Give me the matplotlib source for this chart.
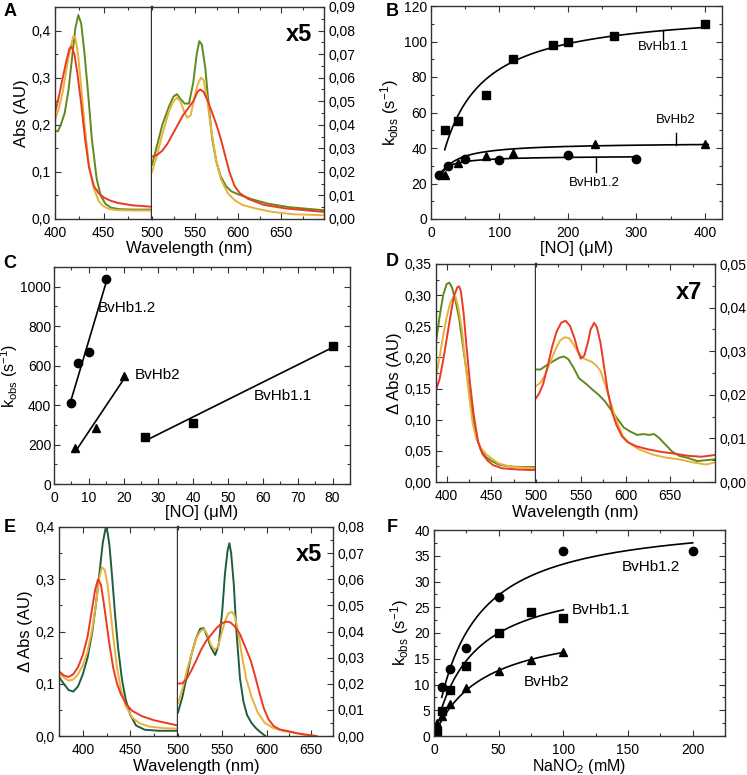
import numpy as np
import matplotlib
matplotlib.use("Agg")
import matplotlib.pyplot as plt
from matplotlib.ticker import MultipleLocator, FuncFormatter

plt.rcParams['font.family'] = ['Liberation Sans', 'DejaVu Sans']
plt.rcParams['mathtext.fontset'] = 'custom'
plt.rcParams['mathtext.rm'] = 'Liberation Sans'
plt.rcParams['mathtext.it'] = 'Liberation Sans:italic'

GREEN = '#5e8a1e'
YELLOW = '#e8b23a'
RED = '#ec3a22'
DKGREEN = '#1d5e3c'
SPINE = '#333333'

# ---------------- Panel A spectra ----------------
a_soret_wl = {
    'green': [400, 403, 406, 410, 414, 418, 421, 424, 427, 430, 434, 438, 443, 447, 452, 458, 466, 480, 500],
    'yellow': [400, 404, 408, 412, 416, 419, 421, 424, 427, 431, 435, 440, 445, 450, 456, 464, 480, 500],
    'red': [400, 404, 408, 412, 415, 417, 420, 423, 427, 431, 435, 440, 445, 450, 457, 465, 480, 500],
}
a_soret_abs = {
    'green': [0.187, 0.186, 0.200, 0.225, 0.275, 0.350, 0.405, 0.433, 0.415, 0.360, 0.270, 0.170, 0.085, 0.050, 0.032, 0.024, 0.021, 0.020, 0.020],
    'yellow': [0.210, 0.235, 0.270, 0.320, 0.365, 0.388, 0.385, 0.345, 0.280, 0.190, 0.115, 0.065, 0.038, 0.027, 0.021, 0.019, 0.018, 0.018],
    'red': [0.225, 0.260, 0.300, 0.338, 0.362, 0.366, 0.350, 0.310, 0.245, 0.170, 0.110, 0.070, 0.055, 0.046, 0.039, 0.034, 0.029, 0.026],
}
a_q_wl = {
    'green': [500, 505, 512, 520, 525, 529, 533, 538, 543, 548, 552, 555, 558, 562, 566, 570, 575, 580, 586, 592, 600, 615, 635, 660, 700],
    'yellow': [500, 505, 512, 520, 525, 529, 533, 537, 541, 545, 549, 553, 557, 560, 564, 568, 574, 580, 588, 596, 605, 620, 640, 665, 700],
    'red': [500, 506, 512, 518, 524, 530, 536, 542, 548, 553, 556, 560, 565, 570, 575, 580, 585, 590, 596, 602, 612, 630, 655, 700],
}
a_q_abs = {
    'green': [0.023, 0.030, 0.040, 0.048, 0.052, 0.053, 0.051, 0.049, 0.049, 0.058, 0.070, 0.0755, 0.074, 0.064, 0.048, 0.034, 0.024, 0.018, 0.014, 0.0118, 0.0105, 0.0085, 0.0065, 0.005, 0.0037],
    'yellow': [0.020, 0.026, 0.036, 0.046, 0.050, 0.0515, 0.050, 0.046, 0.043, 0.044, 0.051, 0.057, 0.060, 0.059, 0.051, 0.040, 0.026, 0.017, 0.011, 0.008, 0.006, 0.0045, 0.003, 0.002, 0.0016],
    'red': [0.0265, 0.0272, 0.029, 0.032, 0.036, 0.040, 0.044, 0.047, 0.050, 0.054, 0.055, 0.054, 0.050, 0.045, 0.040, 0.034, 0.027, 0.020, 0.014, 0.011, 0.0085, 0.006, 0.0045, 0.003],
}

# ---------------- Panel D spectra ----------------
d_soret_wl = {
    'green': [388, 392, 396, 400, 403, 406, 410, 414, 418, 422, 426, 430, 434, 438, 444, 450, 458, 470, 485, 500],
    'yellow': [388, 392, 396, 400, 404, 408, 410, 413, 417, 421, 425, 429, 433, 438, 444, 450, 458, 470, 485, 500],
    'red': [388, 392, 396, 400, 404, 408, 412, 414, 416, 419, 422, 426, 430, 435, 440, 446, 452, 462, 480, 500],
}
d_soret_abs = {
    'green': [0.225, 0.265, 0.300, 0.318, 0.320, 0.312, 0.290, 0.262, 0.220, 0.180, 0.135, 0.100, 0.070, 0.052, 0.040, 0.034, 0.028, 0.025, 0.024, 0.024],
    'yellow': [0.170, 0.200, 0.235, 0.265, 0.288, 0.298, 0.297, 0.280, 0.245, 0.190, 0.140, 0.095, 0.070, 0.055, 0.045, 0.038, 0.030, 0.025, 0.023, 0.022],
    'red': [0.148, 0.165, 0.195, 0.230, 0.265, 0.298, 0.313, 0.314, 0.305, 0.270, 0.220, 0.160, 0.110, 0.065, 0.045, 0.034, 0.027, 0.022, 0.020, 0.019],
}
d_q_wl = {
    'green': [500, 505, 512, 520, 526, 531, 536, 542, 548, 556, 563, 570, 577, 584, 591, 598, 606, 613, 620, 626, 632, 638, 645, 652, 660, 670, 680, 690, 700],
    'yellow': [500, 505, 510, 516, 522, 527, 532, 537, 542, 547, 552, 557, 562, 567, 572, 577, 583, 590, 597, 605, 615, 630, 645, 660, 675, 690, 700],
    'red': [500, 504, 508, 513, 518, 523, 528, 533, 538, 543, 547, 550, 554, 558, 561, 565, 568, 572, 576, 580, 585, 590, 596, 602, 612, 625, 640, 655, 670, 685, 700],
}
d_q_abs = {
    'green': [0.0258, 0.0258, 0.0268, 0.0278, 0.0285, 0.0288, 0.0282, 0.0262, 0.0238, 0.0225, 0.0212, 0.0200, 0.0185, 0.0165, 0.0145, 0.0125, 0.0115, 0.0108, 0.0110, 0.0108, 0.0110, 0.0100, 0.0085, 0.0070, 0.0060, 0.0055, 0.0048, 0.0050, 0.0052],
    'yellow': [0.0220, 0.0228, 0.0245, 0.0275, 0.0305, 0.0325, 0.0332, 0.0330, 0.0315, 0.0298, 0.0285, 0.0280, 0.0276, 0.0268, 0.0255, 0.0225, 0.0185, 0.0140, 0.0105, 0.0088, 0.0075, 0.0063, 0.0056, 0.0052, 0.0045, 0.0040, 0.0045],
    'red': [0.0192, 0.0205, 0.0225, 0.0265, 0.0310, 0.0345, 0.0365, 0.0370, 0.0358, 0.0330, 0.0300, 0.0283, 0.0290, 0.0320, 0.0350, 0.0365, 0.0355, 0.0320, 0.0265, 0.0210, 0.0160, 0.0130, 0.0105, 0.0092, 0.0082, 0.0075, 0.0069, 0.0065, 0.0060, 0.0058, 0.0062],
}

# ---------------- Panel E spectra ----------------
e_soret_wl = {
    'dkgreen': [375, 380, 385, 390, 395, 400, 405, 410, 414, 418, 421, 424, 426, 428, 431, 434, 437, 441, 445, 450, 456, 465, 480, 500],
    'yellow': [375, 380, 385, 390, 395, 400, 405, 410, 414, 417, 420, 423, 426, 429, 432, 436, 440, 445, 452, 460, 470, 485, 500],
    'red': [375, 380, 385, 390, 395, 400, 405, 409, 413, 416, 419, 422, 425, 428, 432, 436, 440, 446, 452, 462, 475, 490, 500],
}
e_soret_abs = {
    'dkgreen': [0.113, 0.100, 0.088, 0.085, 0.095, 0.118, 0.150, 0.200, 0.255, 0.320, 0.370, 0.398, 0.390, 0.365, 0.300, 0.230, 0.170, 0.110, 0.070, 0.040, 0.020, 0.012, 0.010, 0.010],
    'yellow': [0.120, 0.112, 0.106, 0.108, 0.118, 0.135, 0.162, 0.205, 0.255, 0.300, 0.323, 0.318, 0.290, 0.240, 0.190, 0.130, 0.090, 0.058, 0.035, 0.024, 0.018, 0.015, 0.014],
    'red': [0.124, 0.116, 0.113, 0.118, 0.132, 0.155, 0.190, 0.235, 0.280, 0.300, 0.290, 0.255, 0.215, 0.175, 0.130, 0.100, 0.080, 0.060, 0.048, 0.038, 0.030, 0.024, 0.020],
}
e_q_wl = {
    'dkgreen': [500, 505, 510, 515, 520, 525, 529, 533, 537, 542, 546, 550, 553, 556, 558, 560, 563, 566, 570, 574, 578, 583, 588, 593, 598, 605],
    'yellow': [500, 505, 510, 515, 520, 525, 529, 533, 537, 541, 545, 549, 553, 557, 561, 564, 568, 572, 577, 583, 590, 598, 608, 620, 632, 645, 655],
    'red': [500, 505, 510, 515, 520, 526, 532, 538, 544, 550, 555, 559, 564, 570, 576, 582, 587, 592, 597, 602, 608, 615, 625, 635, 645, 655, 665],
}
e_q_abs = {
    'dkgreen': [0.009, 0.015, 0.023, 0.031, 0.037, 0.041, 0.0413, 0.038, 0.034, 0.031, 0.035, 0.048, 0.062, 0.071, 0.0738, 0.070, 0.058, 0.040, 0.022, 0.013, 0.008, 0.005, 0.003, 0.0015, 0.0002, -0.002],
    'yellow': [0.0125, 0.018, 0.025, 0.031, 0.037, 0.040, 0.041, 0.039, 0.035, 0.033, 0.034, 0.039, 0.044, 0.047, 0.0475, 0.046, 0.040, 0.031, 0.022, 0.015, 0.009, 0.005, 0.003, 0.0018, 0.0012, 0.0003, -0.001],
    'red': [0.020, 0.0202, 0.022, 0.025, 0.0285, 0.033, 0.0365, 0.039, 0.0415, 0.0432, 0.0438, 0.0435, 0.042, 0.039, 0.034, 0.029, 0.023, 0.0165, 0.0105, 0.0065, 0.0038, 0.0025, 0.0018, 0.001, 0.0005, 0.0001, -0.001],
}

# ---------------- Panel B kinetics ----------------
b_no_11 = [20, 40, 80, 120, 178, 200, 267, 400]
b_k_11 = [50, 55, 70, 90, 98, 100, 103, 110]
b_no_2 = [20, 40, 80, 120, 240, 400]
b_k_2 = [25, 31.5, 35.5, 37, 42.5, 42]
b_no_12 = [12, 25, 50, 100, 200, 300]
b_k_12 = [25, 30, 34, 33, 36, 34]
# hyperbolic fits: kmax, K, x range
b_fit_11 = (119.0, 41.0, 20, 400)
b_fit_2 = (43.1, 10.9, 15, 405)
b_fit_12 = (35.6, 5.1, 12, 300)

# ---------------- Panel C kinetics ----------------
c_no_12 = [5, 7, 10, 15]
c_k_12 = [410, 612, 670, 1040]
c_no_2 = [6, 12, 20]
c_k_2 = [180, 285, 545]
c_no_11 = [26, 40, 80]
c_k_11 = [240, 310, 700]

# ---------------- Panel F kinetics ----------------
f_no2_12 = [6, 12.5, 25, 50, 100, 200]
f_k_12 = [9.5, 13, 17, 27, 36, 36]
f_no2_11 = [2.5, 6, 12.5, 25, 50, 75, 100]
f_k_11 = [1, 4.8, 9, 13.5, 20, 24, 23]
f_no2_2 = [2.5, 6, 12.5, 25, 50, 75, 100]
f_k_2 = [2.5, 3.8, 6.2, 9.3, 12.7, 14.7, 16.4]
f_fit_12 = (42.8, 28.2, 6, 200)
f_fit_11 = (31.6, 29.0, 5, 100)
f_fit_2 = (22.4, 38.0, 2, 100)

W, H = 747, 775
fig = plt.figure(figsize=(W / 100, H / 100), dpi=100)


def box(x0, x1, y0, y1):
    return [x0 / W, 1 - y1 / H, (x1 - x0) / W, (y1 - y0) / H]


def comma(dec):
    return FuncFormatter(lambda v, p: f"{v:.{dec}f}".replace('.', ','))


def style(ax, **kw):
    for s in ax.spines.values():
        s.set_color(SPINE)
        s.set_linewidth(1.0)
    ax.tick_params(which='both', direction='in', labelsize=10, width=0.8, colors=SPINE,
                   labelcolor='black', **kw)
    ax.tick_params(axis='y', pad=3)
    ax.tick_params(axis='x', pad=5)
    ax.tick_params(which='major', length=4)
    ax.tick_params(which='minor', length=2)


def spectra(xl, xm, xr, yt, yb, soret_wl, soret_abs, q_wl, q_abs, colors,
            lxlim, rxlim, lylim, rylim, lystep, rystep, ldec, rdec, ylab, tag):
    axl = fig.add_axes(box(xl, xm, yt, yb))
    axr = fig.add_axes(box(xm, xr, yt, yb))
    for key, c in colors.items():
        axl.plot(soret_wl[key], soret_abs[key], color=c, lw=1.4)
        axr.plot(q_wl[key], q_abs[key], color=c, lw=1.4)
    axl.set_xlim(*lxlim)
    axl.set_ylim(*lylim)
    axr.set_xlim(*rxlim)
    axr.set_ylim(*rylim)
    style(axl, top=True, right=False, left=True)
    style(axr, top=True, right=True, left=False, labelleft=False, labelright=True)
    axr.spines['left'].set_visible(False)
    axl.spines['right'].set_linewidth(1.7)
    axl.xaxis.set_major_locator(MultipleLocator(50))
    axl.xaxis.set_minor_locator(MultipleLocator(25))
    axr.set_xticks([550, 600, 650])
    axr.xaxis.set_minor_locator(MultipleLocator(25))
    axl.yaxis.set_major_locator(MultipleLocator(lystep))
    axl.yaxis.set_minor_locator(MultipleLocator(lystep / 2))
    axr.yaxis.set_major_locator(MultipleLocator(rystep))
    axr.yaxis.set_minor_locator(MultipleLocator(rystep / 2))
    axl.yaxis.set_major_formatter(comma(ldec))
    axr.yaxis.set_major_formatter(comma(rdec))
    axl.set_ylabel(ylab, fontsize=12, labelpad=2)
    fig.text((xl + xr) / 2 / W, 1 - (yb + 30) / H, 'Wavelength (nm)', ha='center', va='center', fontsize=12)
    axr.text(0.93, 0.87, tag, transform=axr.transAxes, ha='right', va='center', fontsize=17, fontweight='bold')
    return axl, axr


def hyper(ax, fit):
    kmax, K, x0, x1 = fit
    xs = np.linspace(x0, x1, 200)
    ax.plot(xs, kmax * xs / (K + xs), color='black', lw=1.2)


kobs = r'k$_{\mathrm{obs}}$ (s$^{-1}$)'
mk = dict(color='black', ls='none', ms=6)

# A
spectra(55, 152, 324, 7, 219, a_soret_wl, a_soret_abs, a_q_wl, a_q_abs,
        {'green': GREEN, 'yellow': YELLOW, 'red': RED},
        (400, 500), (500, 700), (0, 0.45), (0, 0.09), 0.1, 0.01, 1, 2, 'Abs (AU)', 'x5')

# B
axb = fig.add_axes(box(431, 722, 6, 219))
hyper(axb, b_fit_11)
hyper(axb, b_fit_2)
hyper(axb, b_fit_12)
axb.plot(b_no_11, b_k_11, marker='s', **mk)
axb.plot(b_no_2, b_k_2, marker='^', **mk)
axb.plot(b_no_12, b_k_12, marker='o', **mk)
axb.plot([339, 339], [101, 106], color='black', lw=1)
axb.text(339, 97, 'BvHb1.1', ha='center', va='center', fontsize=9.5)
axb.plot([358, 358], [41.5, 48.5], color='black', lw=1)
axb.text(358, 56, 'BvHb2', ha='center', va='center', fontsize=9.5)
axb.plot([241, 241], [26.5, 35], color='black', lw=1)
axb.text(238, 20, 'BvHb1.2', ha='center', va='center', fontsize=9.5)
axb.set_xlim(0, 425)
axb.set_ylim(0, 120)
axb.xaxis.set_major_locator(MultipleLocator(100))
axb.xaxis.set_minor_locator(MultipleLocator(50))
axb.yaxis.set_major_locator(MultipleLocator(20))
axb.yaxis.set_minor_locator(MultipleLocator(10))
style(axb, top=True, right=True)
axb.set_ylabel(kobs, fontsize=12, labelpad=2)
axb.set_xlabel('[NO] (μM)', fontsize=12, labelpad=1)

# C
axc = fig.add_axes(box(54, 350, 267, 484))
for xs, ys, m, lab, pos in [(c_no_12, c_k_12, 'o', 'BvHb1.2', (20.8, 890)),
                            (c_no_2, c_k_2, '^', 'BvHb2', (29.6, 555)),
                            (c_no_11, c_k_11, 's', 'BvHb1.1', (65.8, 448))]:
    p = np.polyfit(xs, ys, 1)
    xl = np.array([min(xs), max(xs)])
    axc.plot(xl, np.polyval(p, xl), color='black', lw=1.2)
    axc.plot(xs, ys, marker=m, **mk)
    axc.text(pos[0], pos[1], lab, ha='center', va='center', fontsize=11)
axc.set_xlim(0, 85)
axc.set_ylim(0, 1100)
axc.xaxis.set_major_locator(MultipleLocator(10))
axc.xaxis.set_minor_locator(MultipleLocator(5))
axc.yaxis.set_major_locator(MultipleLocator(200))
axc.yaxis.set_minor_locator(MultipleLocator(100))
style(axc, top=True, right=True)
axc.tick_params(axis='y', pad=2)
axc.set_ylabel(kobs, fontsize=11.5, labelpad=0)
axc.set_xlabel('[NO] (μM)', fontsize=12, labelpad=0)

# D
spectra(436, 536, 715, 264, 482, d_soret_wl, d_soret_abs, d_q_wl, d_q_abs,
        {'green': GREEN, 'yellow': YELLOW, 'red': RED},
        (388, 500), (500, 700), (0, 0.35), (0, 0.05), 0.05, 0.01, 2, 2, 'Δ Abs (AU)', 'x7')

# E
spectra(59, 178, 333, 527, 736, e_soret_wl, e_soret_abs, e_q_wl, e_q_abs,
        {'dkgreen': DKGREEN, 'yellow': YELLOW, 'red': RED},
        (375, 500), (500, 675), (0, 0.4), (0, 0.08), 0.1, 0.01, 1, 2, 'Δ Abs (AU)', 'x5')

# F
axf = fig.add_axes(box(434, 725, 530, 736))
hyper(axf, f_fit_12)
hyper(axf, f_fit_11)
hyper(axf, f_fit_2)
axf.plot(f_no2_12, f_k_12, marker='o', **mk)
axf.plot(f_no2_11, f_k_11, marker='s', **mk)
axf.plot(f_no2_2, f_k_2, marker='^', **mk)
axf.text(168, 32.8, 'BvHb1.2', ha='center', va='center', fontsize=11)
axf.text(129, 24.5, 'BvHb1.1', ha='center', va='center', fontsize=11)
axf.text(87, 10.5, 'BvHb2', ha='center', va='center', fontsize=11)
axf.set_xlim(0, 225)
axf.set_ylim(0, 40)
axf.xaxis.set_major_locator(MultipleLocator(50))
axf.xaxis.set_minor_locator(MultipleLocator(25))
axf.yaxis.set_major_locator(MultipleLocator(5))
axf.yaxis.set_minor_locator(MultipleLocator(2.5))
style(axf, top=True, right=True)
axf.set_ylabel(kobs, fontsize=12, labelpad=2)
axf.set_xlabel('NaNO$_2$ (mM)', fontsize=11.5, labelpad=0)

for letter, x, y in [('A', 10, 11), ('B', 392, 11), ('C', 10, 263), ('D', 392, 262), ('E', 10, 527), ('F', 392, 527)]:
    fig.text(x / W, 1 - y / H, letter, ha='center', va='center', fontsize=13, fontweight='bold')

fig.savefig('out.png', dpi=100)
